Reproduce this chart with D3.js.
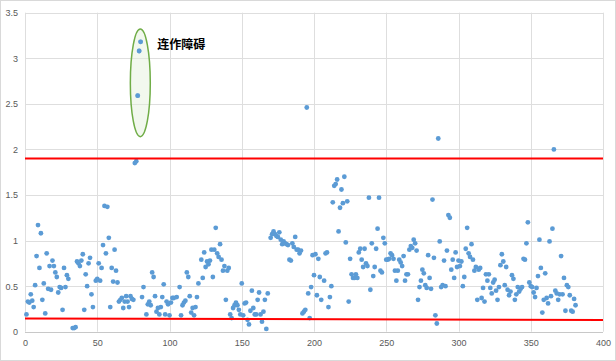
<!DOCTYPE html>
<html><head><meta charset="utf-8">
<script src="https://cdn.jsdelivr.net/npm/d3@7/dist/d3.min.js"></script>
<style>
html,body{margin:0;padding:0;background:#fff;}
svg{display:block;}
</style></head>
<body>
<svg id="chart" width="616" height="361"></svg>
<script>
// y value for each x index (null = no point at that index)
const values = [
null,0.19,0.33,0.32,0.41,0.34,0.27,0.51,0.83,1.17,
0.70,1.08,0.35,0.53,0.20,0.86,0.47,0.72,0.46,0.78,
0.72,0.65,0.60,0.43,0.49,0.48,0.24,0.70,0.49,0.62,
0.58,null,null,0.04,0.04,0.05,0.77,0.75,0.72,0.78,
0.85,0.24,0.63,0.50,0.75,0.81,0.41,0.27,null,0.56,
0.58,0.75,0.56,0.70,0.95,1.38,0.86,1.37,1.03,0.27,
0.70,0.55,0.90,0.67,0.54,0.33,0.35,0.37,0.26,0.33,
0.39,0.33,0.27,0.39,0.36,0.35,1.85,1.87,2.59,3.08,
3.18,0.38,0.49,null,0.19,0.30,0.33,0.29,0.65,0.60,
0.39,0.22,0.26,0.19,0.27,0.38,0.52,0.19,0.33,0.30,
0.18,0.32,0.37,0.37,null,0.38,null,0.49,0.18,0.29,
0.32,0.34,0.65,0.60,0.39,0.21,0.26,0.18,0.27,0.38,
0.53,null,0.79,0.59,0.87,0.71,0.77,0.74,0.78,0.90,
0.60,0.90,1.14,0.86,0.82,0.96,0.79,0.67,0.72,0.35,
0.67,0.70,0.19,0.15,0.26,0.29,0.32,0.29,0.24,0.19,
0.53,0.18,0.31,0.32,0.13,0.08,0.23,0.45,0.26,0.19,
0.19,0.35,0.43,0.19,0.11,0.22,0.35,0.03,0.42,null,
1.03,1.07,1.10,1.07,1.05,1.04,1.09,1.01,0.96,0.99,
0.97,0.96,0.95,0.79,0.78,0.97,0.93,1.04,0.90,0.90,
0.86,0.89,0.20,0.22,0.24,2.46,0.42,0.15,0.49,0.84,
0.62,0.85,0.40,0.80,0.60,0.35,null,0.56,0.86,0.87,
0.27,0.38,0.50,1.42,1.60,1.62,1.67,1.10,1.36,1.56,
1.41,1.70,0.98,1.43,0.33,0.80,0.63,0.59,0.59,0.63,
0.59,0.87,0.91,0.79,0.71,0.91,0.75,0.72,1.47,0.46,
0.97,0.61,0.71,0.91,1.13,1.47,0.67,0.65,1.03,0.97,
0.79,0.79,0.80,0.86,0.84,0.80,0.67,0.56,0.67,0.79,
0.76,0.72,0.83,0.56,0.63,0.63,0.90,0.94,0.92,1.01,
0.97,0.89,0.35,0.49,0.56,0.68,0.64,0.51,0.48,0.84,
0.59,0.47,1.45,0.81,0.18,0.09,2.12,0.99,0.49,0.51,
0.78,0.50,0.89,1.28,1.25,0.68,0.79,0.59,0.87,0.71,
0.78,0.72,0.77,0.50,0.60,0.91,1.14,0.86,0.82,0.96,
0.79,0.67,0.71,0.35,0.68,0.70,0.37,0.48,0.33,0.63,
0.56,0.63,0.48,0.42,0.54,0.57,0.45,0.35,0.49,0.73,
0.85,0.77,0.51,0.71,0.46,0.40,0.44,0.62,0.58,0.35,
0.41,0.49,0.44,0.47,0.49,0.80,0.79,0.97,1.20,0.54,
0.50,0.49,0.43,0.38,0.48,0.61,1.01,0.70,0.21,0.35,
0.64,0.37,0.31,0.99,0.39,1.13,2.00,0.45,0.42,0.35,
0.41,0.83,0.41,0.59,0.23,0.51,0.49,0.40,0.23,0.22,
0.36,0.29
];
const xTicks = [0,50,100,150,200,250,300,350,400];
const yTicks = [0,0.5,1,1.5,2,2.5,3,3.5];
// red threshold lines: [x1, y1, x2, y2]
const upperLine = [0, 1.9, 400, 1.9];
const lowerLine = [0, 0.146, 400, 0.128];
// annotation ellipse: centre x, centre y, half width (x units), half height (y units)
const ellipseData = [79.8, 2.73, 6.9, 0.59];
const annotationText = "连作障碍";
const annotationPos = [91.5, 3.16];

const svg = d3.select("#chart");
const W = 616, H = 361;
const m = {left:25, right:13, top:12.7, bottom:29.3};
const x = d3.scaleLinear().domain([0,400]).range([m.left, W - m.right]);
const y = d3.scaleLinear().domain([0,3.5]).range([H - m.bottom, m.top]);

// outer border
svg.append("rect").attr("x",0.5).attr("y",0.5).attr("width",W-1).attr("height",H-1)
  .attr("fill","#fff").attr("stroke","#D9D9D9");

// gridlines
const grid = svg.append("g");
grid.selectAll("line.h").data(yTicks).join("line")
  .attr("x1", x(0)).attr("x2", x(400))
  .attr("y1", d => Math.round(y(d))+0.5).attr("y2", d => Math.round(y(d))+0.5)
  .attr("stroke", d => d === 0 ? "#C8C8C8" : "#DEDEDE").attr("stroke-width",1);
grid.selectAll("line.v").data(xTicks).join("line")
  .attr("y1", y(0)).attr("y2", y(3.5))
  .attr("x1", d => Math.round(x(d))+0.5).attr("x2", d => Math.round(x(d))+0.5)
  .attr("stroke","#DEDEDE").attr("stroke-width",1);

// axes (labels only)
const fmt = d => String(d);
const ax = svg.append("g").attr("transform",`translate(0,${y(0)})`)
  .call(d3.axisBottom(x).tickValues(xTicks).tickFormat(fmt).tickSize(0).tickPadding(8));
const ay = svg.append("g").attr("transform",`translate(${x(0)},0)`)
  .call(d3.axisLeft(y).tickValues(yTicks).tickFormat(fmt).tickSize(0).tickPadding(7));
[ax, ay].forEach(g => {
  g.select(".domain").remove();
  g.selectAll("text").attr("fill","#595959").style("font-family","'Liberation Sans', Arial, sans-serif").style("font-size","9px");
});

// points
const pts = values.map((v,i) => ({x:i, y:v})).filter(d => d.y !== null);
svg.append("g").selectAll("circle").data(pts).join("circle")
  .attr("cx", d => x(d.x)).attr("cy", d => y(d.y)).attr("r", 2.4)
  .attr("fill","#5B9BD5");

// red threshold lines
[upperLine, lowerLine].forEach(l => {
  svg.append("line")
    .attr("x1", x(l[0])).attr("y1", y(l[1])).attr("x2", x(l[2])).attr("y2", y(l[3]))
    .attr("stroke","#FF0000").attr("stroke-width",2);
});

// ellipse annotation
const [ecx, ecy, erx, ery] = ellipseData;
svg.append("ellipse")
  .attr("cx", x(ecx)).attr("cy", y(ecy))
  .attr("rx", x(ecx+erx) - x(ecx)).attr("ry", y(ecy-ery) - y(ecy))
  .attr("fill","rgba(226,240,217,0.45)").attr("stroke","#70AD47").attr("stroke-width",1.5);
// re-draw points inside ellipse on top of it
svg.append("g").selectAll("circle").data(pts.filter(d => d.y > 2.2 && d.x > 70 && d.x < 90)).join("circle")
  .attr("cx", d => x(d.x)).attr("cy", d => y(d.y)).attr("r", 2.4)
  .attr("fill","#5B9BD5");

svg.append("text").attr("x", x(annotationPos[0])).attr("y", y(annotationPos[1]))
  .attr("dominant-baseline","central")
  .style("font-family","'Noto Sans CJK SC', sans-serif").style("font-weight","bold").style("font-size","12px")
  .attr("fill","#000").text(annotationText);
</script>
</body></html>
